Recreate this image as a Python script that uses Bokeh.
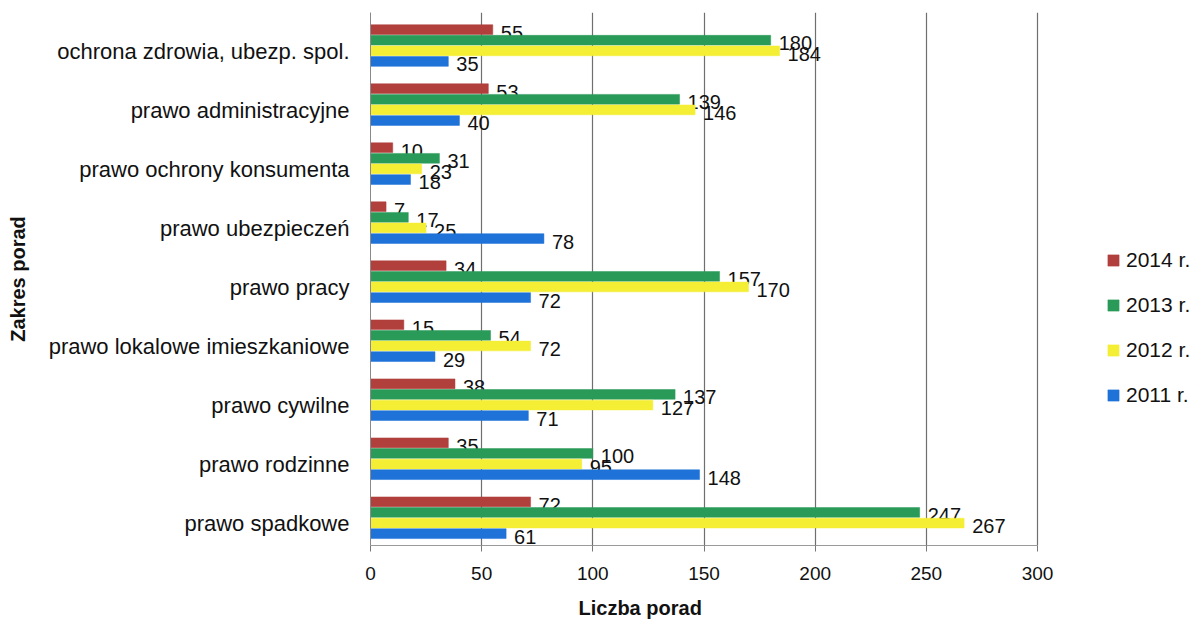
from bokeh.plotting import figure
from bokeh.models import ColumnDataSource, Range1d, Legend, LegendItem, Title, FixedTicker
from bokeh.transform import dodge
from bokeh.core.properties import value
from bokeh.embed import file_html
from bokeh.resources import INLINE

categories = [
    "ochrona zdrowia, ubezp. spol.",
    "prawo administracyjne",
    "prawo ochrony konsumenta",
    "prawo ubezpieczeń",
    "prawo pracy",
    "prawo lokalowe imieszkaniowe",
    "prawo cywilne",
    "prawo rodzinne",
    "prawo spadkowe",
]
years = ["2014 r.", "2013 r.", "2012 r.", "2011 r."]
v2014 = [55, 53, 10, 7, 34, 15, 38, 35, 72]
v2013 = [180, 139, 31, 17, 157, 54, 137, 100, 247]
v2012 = [184, 146, 23, 25, 170, 72, 127, 95, 267]
v2011 = [35, 40, 18, 78, 72, 29, 71, 148, 61]
x_ticks = [0, 50, 100, 150, 200, 250, 300]

series = [v2014, v2013, v2012, v2011]
colors = ["#b13f3c", "#2a9a58", "#f4ee35", "#1e72d8"]
offsets = [0.37, 0.19, 0.01, -0.17]

FONT = "Liberation Sans, Arial, sans-serif"

n = len(categories)
pos = [n - 1 - i for i in range(n)]          # first category at the top

W, H = 1195, 630
LEFT, RIGHT_PX = 370, 1037          # frame left edge and pixel of value 300
x_end = 300 * (W - LEFT) / (RIGHT_PX - LEFT)

p = figure(width=W, height=H,
           y_range=Range1d(-0.37, n - 1 + 0.66),
           x_range=Range1d(0, x_end),
           output_backend="svg", toolbar_location=None,
           min_border_left=LEFT, min_border_top=12, min_border_bottom=82, min_border_right=0)
p.outline_line_color = None
p.background_fill_color = "white"

items = []
for yr, vals, col, off in zip(years, series, colors, offsets):
    src = ColumnDataSource(dict(pos=pos, val=vals, lab=[str(v) for v in vals]))
    r = p.hbar(y=dodge("pos", off), right="val", left=0, height=0.165,
               source=src, fill_color=col, line_color=col, line_width=0.5)
    p.text(x="val", y=dodge("pos", off - 0.05), text="lab", source=src,
           x_offset=8, text_align="left", text_baseline="middle",
           text_font=value(FONT), text_font_size="20px", text_color="#111111")
    items.append(LegendItem(label=yr, renderers=[r]))

legend = Legend(items=items, location=(736, 138), orientation="vertical",
                label_text_font=FONT, label_text_font_size="21px", label_text_color="#111111",
                glyph_width=14, glyph_height=14, label_standoff=6, spacing=21,
                label_height=22, border_line_color=None, background_fill_alpha=0,
                padding=0, margin=0)
p.add_layout(legend, "center")

p.xaxis.ticker = FixedTicker(ticks=x_ticks)
p.xaxis.bounds = (0, 300)
p.xaxis.major_label_text_font = FONT
p.xaxis.major_label_text_font_size = "19px"
p.xaxis.major_label_text_color = "#111111"
p.xaxis.axis_line_color = "#9a9a9a"
p.xaxis.major_tick_line_color = "#777777"
p.xaxis.major_tick_out = 6
p.xaxis.major_tick_in = 0
p.xaxis.minor_tick_line_color = None
p.xaxis.major_label_standoff = 15

p.yaxis.ticker = FixedTicker(ticks=pos)
p.yaxis.major_label_overrides = {k: c for k, c in zip(pos, categories)}
p.yaxis.major_label_text_font = FONT
p.yaxis.major_label_text_font_size = "22px"
p.yaxis.major_label_text_color = "#111111"
p.yaxis.axis_line_color = "#8a8a8a"
p.yaxis.major_tick_line_color = None
p.yaxis.minor_tick_line_color = None
p.yaxis.major_label_standoff = 15
p.yaxis.axis_label = "Zakres porad"
p.yaxis.axis_label_text_font = FONT
p.yaxis.axis_label_text_font_size = "20px"
p.yaxis.axis_label_text_font_style = "bold"
p.yaxis.axis_label_text_color = "#111111"
p.yaxis.axis_label_standoff = 17

p.ygrid.grid_line_color = None
p.xgrid.grid_line_color = "#6f6f6f"
p.xgrid.grid_line_width = 1.2

p.add_layout(Title(text="Liczba porad", align="left", offset=208, standoff=24,
                   text_font=FONT, text_font_size="20px", text_font_style="bold",
                   text_color="#111111"), "below")

open("out.html", "w").write(file_html(p, INLINE))
